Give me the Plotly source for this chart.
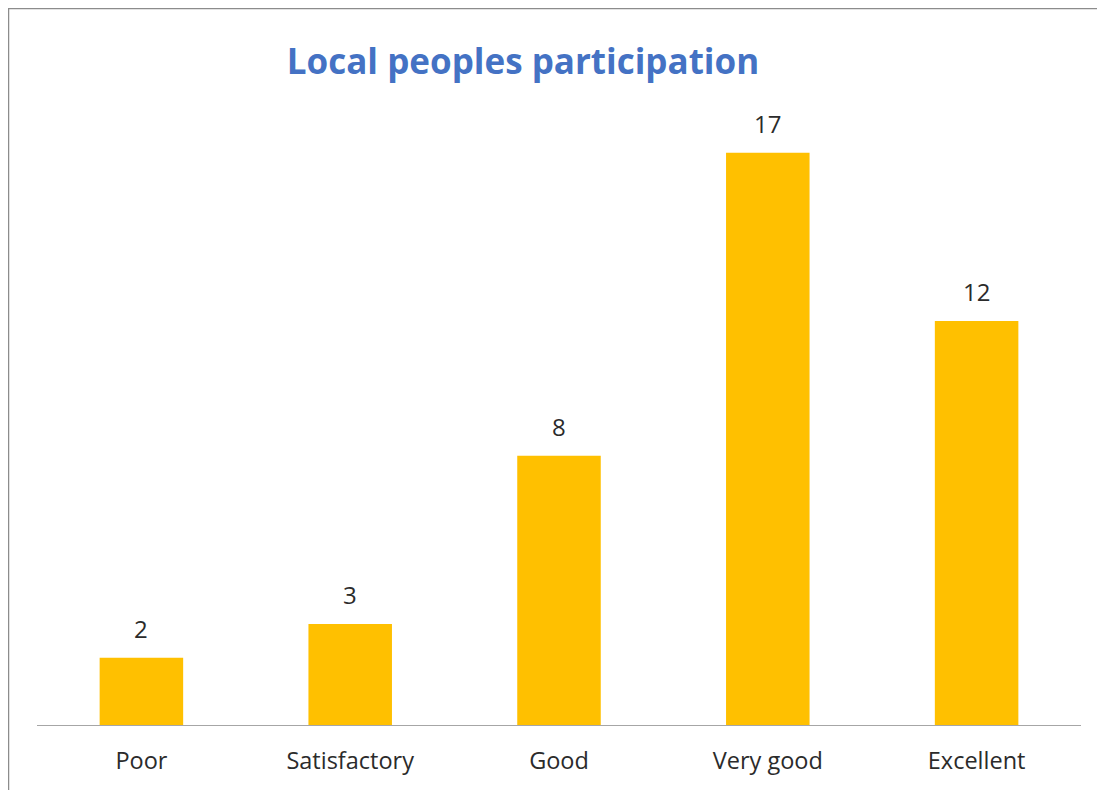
import plotly.graph_objects as go

categories = ["Poor", "Satisfactory", "Good", "Very good", "Excellent"]
values = [2, 3, 8, 17, 12]
title_text = "Local peoples participation"

# page body has an 8px default margin, so the figure is sized to fit
W, H = 1097, 782
L, R, T, B = 29, 24, 111, 65
pw, ph = W - L - R, H - T - B
FONT = "Open Sans, sans-serif"

fig = go.Figure()
fig.add_trace(go.Bar(
    x=categories, y=values, marker=dict(color="#FFC000", line=dict(width=0)),
    width=0.4, hoverinfo="x+y",
))
for c, v in zip(categories, values):
    fig.add_annotation(x=c, y=v, text=str(v), showarrow=False, yanchor="bottom",
                       yshift=11, font=dict(family=FONT, size=24, color="#2b2b2b"))

fig.update_layout(
    width=W, height=H, margin=dict(l=L, r=R, t=T, b=B),
    paper_bgcolor="white", plot_bgcolor="white", showlegend=False,
    title=dict(text="<b>" + title_text + "</b>", x=515 / W, xref="container",
               xanchor="center", y=1 - 54 / H, yanchor="middle",
               font=dict(family=FONT, size=35, color="#4472C4")),
)
fig.update_xaxes(showline=True, linecolor="#A6A6A6", linewidth=1.3, ticks="",
                 showgrid=False, ticklabelstandoff=15,
                 tickfont=dict(family=FONT, size=23.5, color="#2b2b2b"))
fig.update_yaxes(range=[0, 18], visible=False, showgrid=False, zeroline=False)

fig.add_shape(type="rect", xref="paper", yref="paper",
              x0=(0.5 - L) / pw, x1=(1092 - L) / pw,
              y0=(H - B - 800) / ph, y1=(H - B - 0.5) / ph,
              line=dict(color="#8C8C8C", width=1.5), fillcolor="rgba(0,0,0,0)", layer="below")

fig.write_html("out.html")
